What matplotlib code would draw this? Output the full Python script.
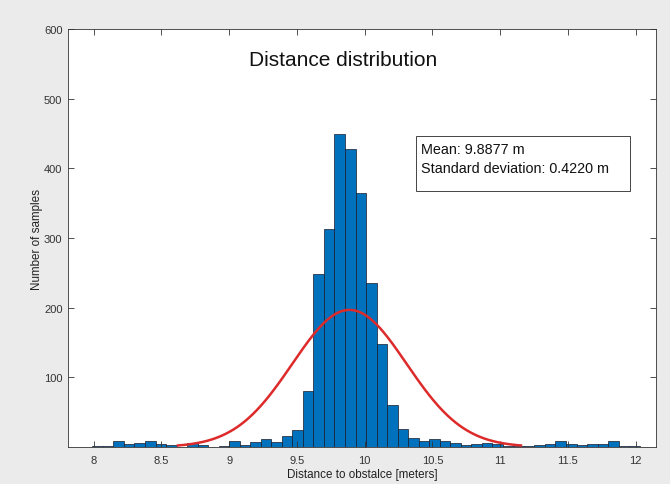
import numpy as np
import matplotlib
matplotlib.use("Agg")
import matplotlib.pyplot as plt
from matplotlib.patches import Rectangle

plt.rcParams['font.family'] = ['Liberation Sans', 'DejaVu Sans']

# Histogram data (bin edges span 7.99 .. 12.03, 52 equal bins)
bin_lo = 7.99
bin_hi = 12.03
counts = [2, 2, 9, 5, 6, 9, 4, 3, 0, 6,
          3, 0, 2, 9, 3, 7, 11, 7, 16, 25,
          80, 248, 313, 450, 428, 364, 235, 148, 61, 26,
          13, 9, 11, 9, 6, 3, 4, 6, 5, 2,
          2, 2, 3, 5, 9, 4, 3, 5, 5, 8,
          2, 2]
mean_val = 9.8877
std_val = 0.4220
n_samples = 2680

xticks = [8, 8.5, 9, 9.5, 10, 10.5, 11, 11.5, 12]
xtick_labels = ["8", "8.5", "9", "9.5", "10", "10.5", "11", "11.5", "12"]
yticks = [100, 200, 300, 400, 500, 600]

title_text = "Distance distribution"
xlabel_text = "Distance to obstalce [meters]"
ylabel_text = "Number of samples"
box_lines = ["Mean: 9.8877 m", "Standard deviation: 0.4220 m"]

counts = np.array(counts, dtype=float)
edges = np.linspace(bin_lo, bin_hi, len(counts) + 1)
width = edges[1] - edges[0]

fig = plt.figure(figsize=(6.7, 4.85), dpi=100, facecolor='#ebebeb')
ax = fig.add_axes([0.1015, 0.0763, 0.8775, 0.8617])
ax.set_facecolor('white')

ax.hist(edges[:-1], bins=edges, weights=counts, color='#0072BD',
        edgecolor='#1a1a2a', linewidth=0.5)

# Fitted normal curve over mean +/- 3 sd
xs = np.linspace(mean_val - 3 * std_val, mean_val + 3 * std_val, 300)
scale = n_samples * width
ys = scale / (std_val * np.sqrt(2 * np.pi)) * np.exp(-0.5 * ((xs - mean_val) / std_val) ** 2)
ax.plot(xs, ys, color='#dd2a2a', linewidth=1.8)

ax.set_xlim(7.81, 12.15)
ax.set_ylim(0, 600)
ax.set_xticks(xticks)
ax.set_xticklabels(xtick_labels)
ax.set_yticks(yticks)
ax.tick_params(direction='in', top=True, right=True, labelsize=8, length=4,
               width=0.6, colors='#333333')
ax.tick_params(axis='x', pad=6)
ax.tick_params(axis='y', pad=4)
for s in ax.spines.values():
    s.set_linewidth(0.6)
    s.set_color('#333333')

ax.set_xlabel(xlabel_text, fontsize=8.4, labelpad=2, color='#222222')
ax.set_ylabel(ylabel_text, fontsize=8.4, labelpad=1, color='#222222')

ax.text(0.468, 0.928, title_text, transform=ax.transAxes, ha='center',
        va='center', fontsize=15, color='#111111')

ax.add_patch(Rectangle((0.592, 0.612), 0.364, 0.132, transform=ax.transAxes,
                       facecolor='white', edgecolor='#444444', linewidth=0.7,
                       zorder=5))
ax.text(0.601, 0.712, box_lines[0], transform=ax.transAxes, ha='left',
        va='center', fontsize=10.4, color='#111111', zorder=6)
ax.text(0.601, 0.667, box_lines[1], transform=ax.transAxes, ha='left',
        va='center', fontsize=10.4, color='#111111', zorder=6)

fig.savefig("out.png", dpi=100, facecolor=fig.get_facecolor())
